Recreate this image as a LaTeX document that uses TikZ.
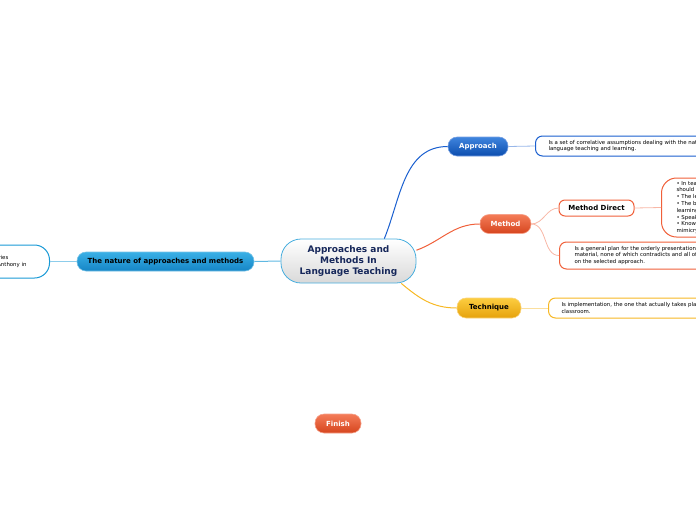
\documentclass[tikz,border=0pt]{standalone}
\usepackage{fontspec}
\setmainfont{DejaVu Sans}
\usetikzlibrary{positioning,calc}
\definecolor{MapNavy}{HTML}{16275A}
\definecolor{MapSky}{HTML}{1A9AD6}
\definecolor{MapSkyTop}{HTML}{3AB0E6}
\definecolor{MapSkyBot}{HTML}{1585C6}
\definecolor{MapBlue}{HTML}{1A5FCF}
\definecolor{MapBlueTop}{HTML}{3F85DE}
\definecolor{MapBlueBot}{HTML}{0C4DAE}
\definecolor{MapOrange}{HTML}{F0603A}
\definecolor{MapOrangeTop}{HTML}{F47C58}
\definecolor{MapOrangeBot}{HTML}{D6451E}
\definecolor{MapGold}{HTML}{F7B824}
\definecolor{MapGoldTop}{HTML}{FCCD40}
\definecolor{MapGoldBot}{HTML}{E6A20C}

\begin{document}
\begin{tikzpicture}[x=1pt, y=-1pt,
    font=\fontsize{5.4}{6.8}\selectfont,
    topic/.style={rounded corners=9pt, minimum height=19pt, inner sep=0pt, line width=0.6pt, font=\fontsize{7}{8.5}\selectfont\bfseries},
    note/.style={draw, fill=white, rounded corners=7pt, line width=1pt, align=left, inner xsep=13pt, inner ysep=0pt},
    link/.style={line width=1pt},
    twig/.style={line width=0.8pt}
]
  \useasboundingbox (0,0) rectangle (696,520);
  \clip (0,0) rectangle (696,520);

  % =========================================================================
  % CENTRAL TOPIC
  % =========================================================================
  \node[draw=MapSky!80, line width=0.8pt, rounded corners=20pt, top color=white, bottom color=gray!30, minimum width=135pt, minimum height=44pt, align=center, text=MapNavy, font=\fontsize{9}{11}\selectfont\bfseries] (root) at (348.5,261) {Approaches and\\Methods In\\Language Teaching};

  % =========================================================================
  % LEFT: THE NATURE OF APPROACHES AND METHODS
  % =========================================================================
  \node[topic, draw=MapSky!60, top color=MapSkyTop, bottom color=MapSkyBot, minimum width=177pt] (nature) at (165.5,261.5) {The nature of approaches and methods};
  \node[note, draw=MapSky, rounded corners=15pt, minimum height=33pt, anchor=east, inner xsep=23pt] (nature_n) at (50,261.5) {Describes the three hierarchical categories\\of the framework proposed by Edward Anthony in};

  \draw[link, MapSky!70] (root.west) -- (nature.east);
  \draw[twig, MapSky!50] (nature.west) -- (nature_n.east);

  % =========================================================================
  % RIGHT: APPROACH
  % =========================================================================
  \node[topic, draw=MapBlue!60, top color=MapBlueTop, bottom color=MapBlueBot, text=white, minimum width=60pt] (approach) at (478,146.5) {Approach};
  \node[note, draw=MapBlue, minimum height=20pt, anchor=west] (approach_n) at (535,146) {Is a set of correlative assumptions dealing with the nature of\\language teaching and learning.};

  \draw[link, MapBlue] (root.32.5) to[out=68, in=180] (approach.west);
  \draw[twig, MapBlue!45] (approach.east) -- (approach_n.west);

  % =========================================================================
  % RIGHT: METHOD
  % =========================================================================
  \node[topic, draw=MapOrange!60, top color=MapOrangeTop, bottom color=MapOrangeBot, text=white, minimum width=51pt] (method) at (505.5,224) {Method};
  \node[note, draw=MapOrange, rounded corners=6pt, minimum height=16pt, minimum width=75pt, inner xsep=2pt, align=center, font=\fontsize{7}{8.5}\selectfont\bfseries] (direct) at (596.5,208) {Method Direct};
  \node[note, draw=MapOrange, rounded corners=15pt, minimum height=59pt, anchor=west, inner xsep=15pt] (direct_n) at (661,207.5) {%
    \textbullet\ In teaching, the target language\\
    should be used exclusively.\\
    \textbullet\ The lesson starts with dialogues.\\
    \textbullet\ The basis of language\\
    learning is oral communication.\\
    \textbullet\ Speaking comes first.\\
    \textbullet\ Knowledge is built through\\
    mimicry and memorization.};
  \node[note, draw=MapOrange, minimum height=27pt, anchor=west, inner xsep=15pt] (method_n) at (559,255.5) {Is a general plan for the orderly presentation of language\\material, none of which contradicts and all of which is based\\on the selected approach.};

  \draw[link, MapOrange] (root.9.3) to[out=20, in=180] (method.west);
  \draw[twig, MapOrange!45] (method.east) to[out=0, in=180] (direct.west);
  \draw[twig, MapOrange!45] (method.east) to[out=0, in=180] (method_n.west);
  \draw[twig, MapOrange!45] (direct.east) -- (direct_n.west);

  % =========================================================================
  % RIGHT: TECHNIQUE
  % =========================================================================
  \node[topic, draw=MapGold!60, top color=MapGoldTop, bottom color=MapGoldBot, minimum width=64pt, minimum height=20pt] (technique) at (489,308) {Technique};
  \node[note, draw=MapGold, minimum height=20pt, anchor=west] (technique_n) at (548,308) {Is implementation, the one that actually takes place in a\\classroom.};

  \draw[link, MapGold] (root.-23) to[out=-40, in=180] (technique.west);
  \draw[twig, MapGold!45] (technique.east) -- (technique_n.west);

  % =========================================================================
  % FINISH
  % =========================================================================
  \node[topic, draw=MapOrange!60, top color=MapOrangeTop, bottom color=MapOrangeBot, text=white, minimum width=46pt] (finish) at (338,423.5) {Finish};

\end{tikzpicture}
\end{document}
